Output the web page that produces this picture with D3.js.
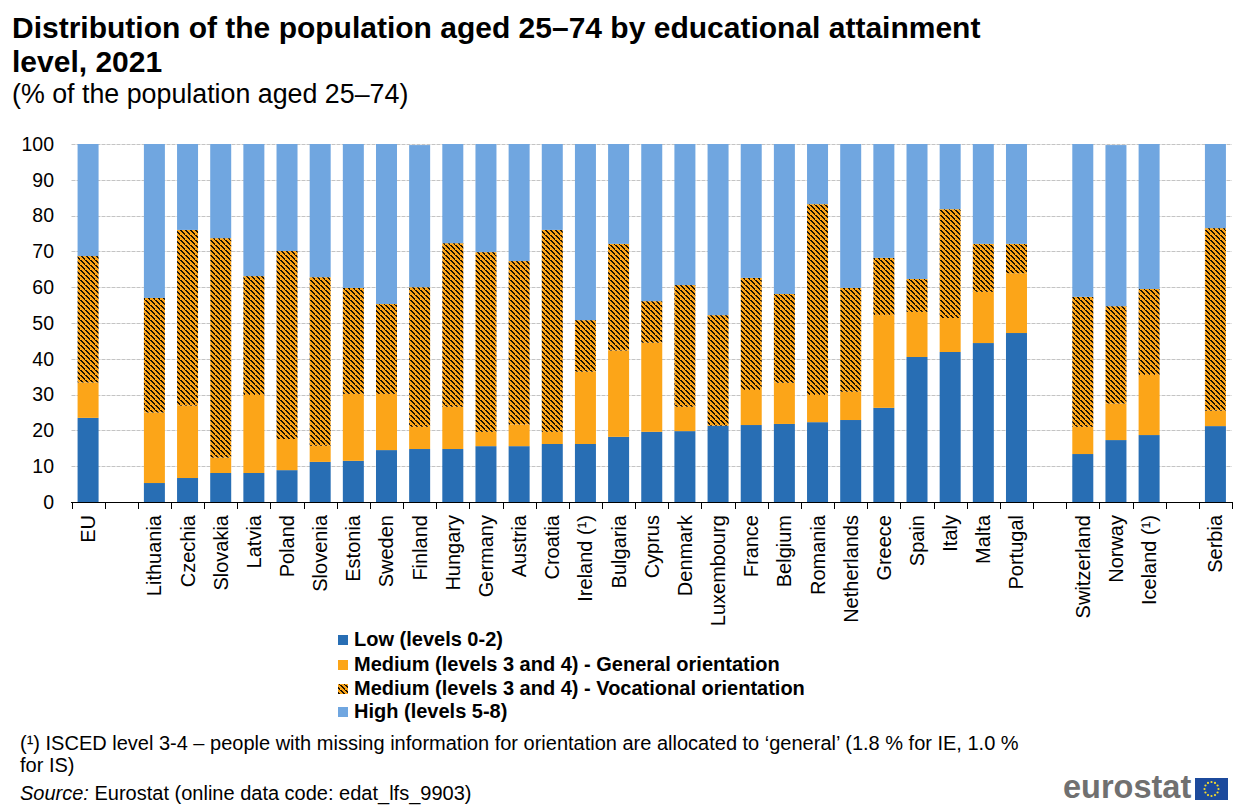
<!DOCTYPE html>
<html lang="en">
<head>
<meta charset="UTF-8">
<title>Distribution of the population aged 25–74 by educational attainment level, 2021</title>
<script src="https://d3js.org/d3.v7.min.js"></script>
<style>
  html, body { margin: 0; padding: 0; background: #fff; }
  text { font-family: "Liberation Sans", Arial, sans-serif; fill: #000; }
</style>
</head>
<body>
<svg id="chart" width="1250" height="812"></svg>
<script>
// blank strings are the gaps between country groups
const countries = ["EU", " ", "Lithuania", "Czechia", "Slovakia", "Latvia", "Poland", "Slovenia", "Estonia", "Sweden", "Finland", "Hungary", "Germany", "Austria", "Croatia", "Ireland (¹)", "Bulgaria", "Cyprus", "Denmark", "Luxembourg", "France", "Belgium", "Romania", "Netherlands", "Greece", "Spain", "Italy", "Malta", "Portugal", "  ", "Switzerland", "Norway", "Iceland (¹)", "   ", "Serbia"];
const low = [23.5, 0, 5.3, 6.7, 8.1, 8.1, 8.9, 11.2, 11.5, 14.5, 14.8, 14.8, 15.6, 15.6, 16.2, 16.2, 18.2, 19.6, 19.8, 21.3, 21.5, 21.8, 22.3, 22.9, 26.3, 40.5, 41.9, 44.4, 47.2, 0, 13.4, 17.3, 18.7, 0, 21.2];
const general = [9.9, 0, 19.7, 20.2, 4.3, 21.8, 8.7, 4.5, 18.7, 15.7, 6.2, 11.8, 4.0, 6.0, 3.4, 20.2, 24.1, 24.9, 6.8, 0, 9.8, 11.5, 7.6, 7.9, 25.9, 12.6, 9.5, 14.3, 16.7, 0, 7.6, 10.2, 16.8, 0, 4.3];
const vocational = [35.3, 0, 32.0, 49.1, 61.3, 33.2, 52.5, 47.1, 29.6, 25.1, 39.0, 45.7, 50.2, 45.7, 56.4, 14.4, 29.8, 11.6, 34.0, 30.9, 31.3, 24.8, 53.3, 29.0, 16.0, 9.2, 30.4, 13.4, 8.2, 0, 36.3, 27.2, 24.0, 0, 51.0];
const high = [31.3, 0, 43.0, 24.0, 26.3, 36.9, 29.9, 37.2, 40.2, 44.7, 39.7, 27.7, 30.2, 32.7, 24.0, 49.2, 27.9, 43.9, 39.4, 47.8, 37.4, 41.9, 16.8, 40.2, 31.8, 37.7, 18.2, 27.9, 27.9, 0, 42.7, 45.0, 40.5, 0, 23.5];
const seriesNames = ["Low (levels 0-2)", "Medium (levels 3 and 4) - General orientation", "Medium (levels 3 and 4) - Vocational orientation", "High (levels 5-8)"];
const yTicks = [0, 10, 20, 30, 40, 50, 60, 70, 80, 90, 100];

const svg = d3.select("#chart");

// hatch for the vocational series
const pat = svg.append("defs").append("pattern")
    .attr("id", "hatch")
    .attr("patternUnits", "userSpaceOnUse")
    .attr("width", 5).attr("height", 5);
pat.append("rect").attr("width", 5).attr("height", 5).attr("fill", "#fca518");
pat.selectAll("rect.dot")
    .data(d3.range(5))
    .enter().append("rect")
    .attr("class", "dot")
    .attr("x", d => d).attr("y", d => d)
    .attr("width", 2).attr("height", 1)
    .attr("shape-rendering", "crispEdges")
    .attr("fill", "#1c1206");

const colors = ["#286eb4", "#fca518", "url(#hatch)", "#70a6e0"];

const x = d3.scaleBand().domain(countries).range([71.5, 1232]);
const y = d3.scaleLinear().domain([0, 100]).range([502, 144]);
const barW = 21;

// gridlines
svg.append("g").selectAll("line")
    .data(yTicks.filter(d => d > 0))
    .enter().append("line")
    .attr("x1", 71.5).attr("x2", 1232)
    .attr("y1", d => Math.round(y(d)) + 0.5).attr("y2", d => Math.round(y(d)) + 0.5)
    .attr("stroke", "#c4c4c4").attr("stroke-width", 1).attr("stroke-dasharray", "4,1");

// stacked bars
const rows = countries.map((c, i) => ({ country: c, s0: low[i], s1: general[i], s2: vocational[i], s3: high[i] }));
const stack = d3.stack().keys(["s0", "s1", "s2", "s3"])(rows);

svg.append("g").selectAll("g")
    .data(stack)
    .enter().append("g")
    .attr("fill", (d, i) => colors[i])
    .selectAll("rect")
    .data(d => d.filter(p => p[1] > p[0]))
    .enter().append("rect")
    .attr("x", d => x(d.data.country) + (x.bandwidth() - barW) / 2)
    .attr("width", barW)
    .attr("y", d => y(d[1]))
    .attr("height", d => y(d[0]) - y(d[1]));

// y axis
const yAxis = d3.axisLeft(y).tickValues(yTicks).tickSize(0).tickPadding(17.5);
const yG = svg.append("g").attr("transform", "translate(71.5,0)").call(yAxis);
yG.select(".domain").remove();
yG.selectAll("text").attr("font-size", 19.5).style("font-family", '"Liberation Sans", Arial, sans-serif').attr("fill", "#000");

// x axis baseline and ticks between bands
const xEdges = countries.map(c => x(c)).concat([1232]);
svg.append("line").attr("x1", 71).attr("x2", 1232.5).attr("y1", 502.5).attr("y2", 502.5).attr("stroke", "#000").attr("stroke-width", 1);
svg.append("g").selectAll("line")
    .data(xEdges)
    .enter().append("line")
    .attr("x1", d => Math.round(d) + 0.5).attr("x2", d => Math.round(d) + 0.5)
    .attr("y1", 502).attr("y2", 509)
    .attr("stroke", "#000");

svg.append("g").selectAll("text")
    .data(countries)
    .enter().append("text")
    .attr("transform", d => `translate(${x(d) + x.bandwidth() / 2 + 7},515) rotate(-90)`)
    .attr("text-anchor", "end")
    .attr("font-size", 20)
    .text(d => d.trim());

// title block
svg.append("text").attr("x", 12).attr("y", 38).attr("font-size", 30).attr("font-weight", "bold").text("Distribution of the population aged 25–74 by educational attainment");
svg.append("text").attr("x", 12).attr("y", 72).attr("font-size", 30).attr("font-weight", "bold").text("level, 2021");
svg.append("text").attr("x", 12).attr("y", 103).attr("font-size", 26.8).text("(% of the population aged 25–74)");

// legend
const legendY = [640, 665, 689, 712];
seriesNames.forEach((name, i) => {
  svg.append("rect").attr("x", 338).attr("y", legendY[i] - 5).attr("width", 10).attr("height", 10).attr("fill", colors[i]);
  svg.append("text").attr("x", 354).attr("y", legendY[i] + 6).attr("font-size", 20).attr("font-weight", "bold").text(name);
});

// footnotes
svg.append("text").attr("x", 20).attr("y", 750).attr("font-size", 20).text("(¹) ISCED level 3-4 – people with missing information for orientation are allocated to ‘general’ (1.8 % for IE, 1.0 %");
svg.append("text").attr("x", 20).attr("y", 772).attr("font-size", 20).text("for IS)");
const src = svg.append("text").attr("x", 20).attr("y", 800).attr("font-size", 20);
src.append("tspan").attr("font-style", "italic").text("Source:");
src.append("tspan").text(" Eurostat (online data code: edat_lfs_9903)");

// eurostat logo
svg.append("text").attr("x", 1063).attr("y", 798).attr("font-size", 32.5).attr("font-weight", "bold").style("fill", "#707070").text("eurostat");
svg.append("rect").attr("x", 1195).attr("y", 778).attr("width", 33).attr("height", 22).attr("fill", "#1c4a9c");
svg.append("g").selectAll("circle")
    .data(d3.range(12))
    .enter().append("circle")
    .attr("cx", d => 1211.5 + 7 * Math.sin(d * Math.PI / 6))
    .attr("cy", d => 789 - 7 * Math.cos(d * Math.PI / 6))
    .attr("r", 1.1)
    .attr("fill", "#f5dc2c");
</script>
</body>
</html>
